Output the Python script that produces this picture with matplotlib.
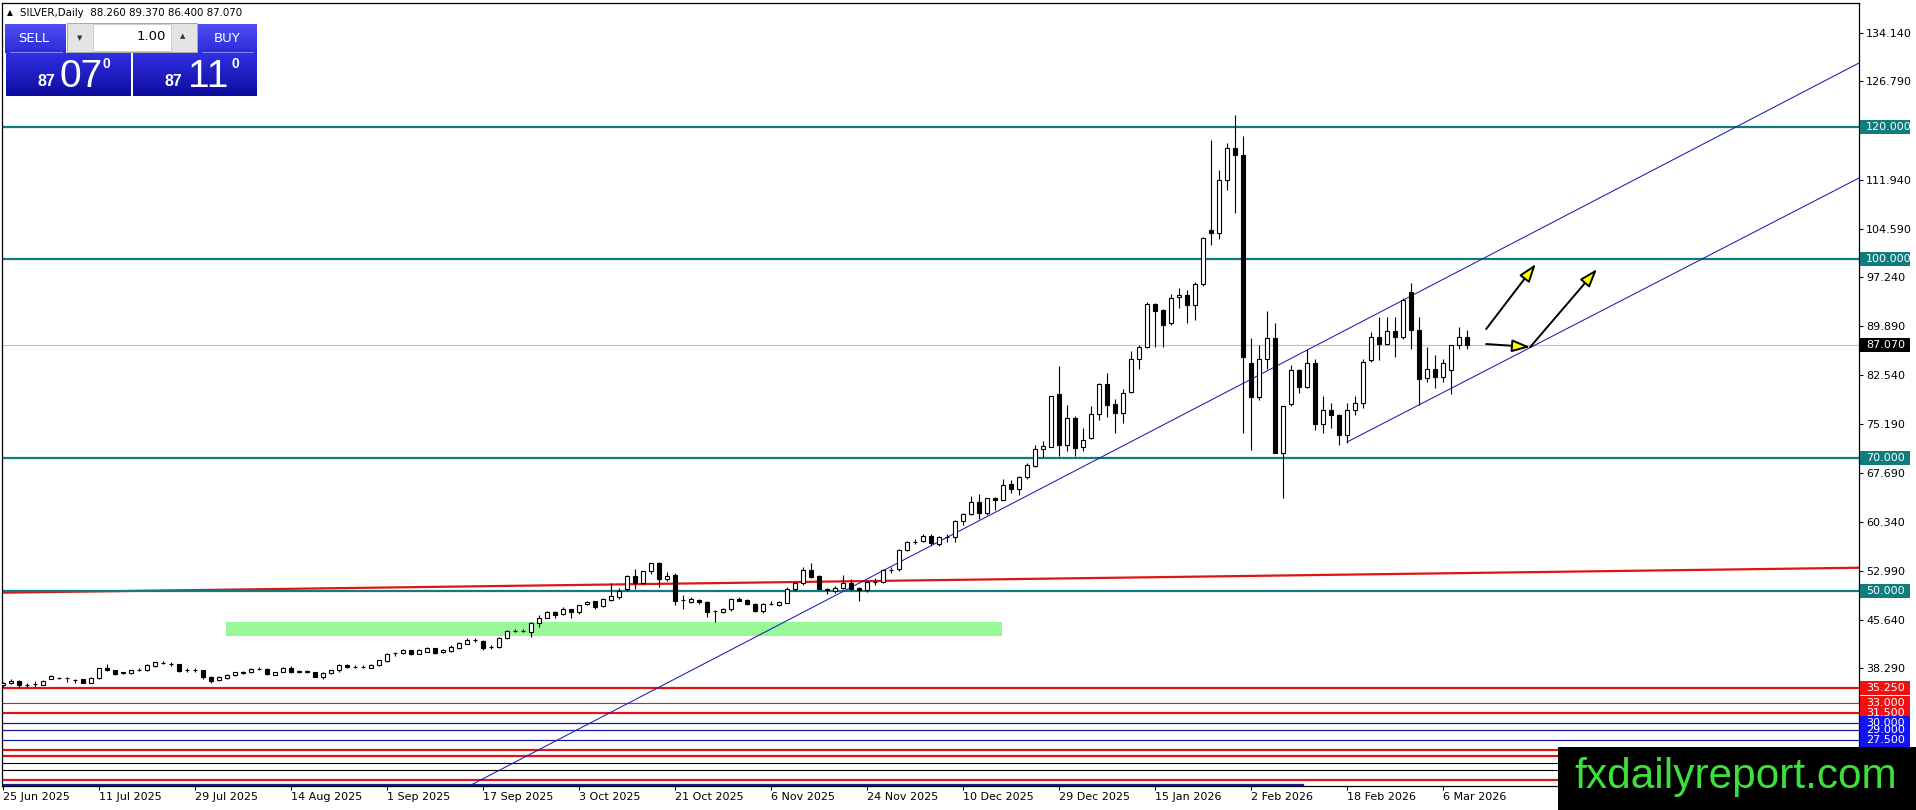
import numpy as np
import matplotlib
matplotlib.use('Agg')
import matplotlib.pyplot as plt
from matplotlib.patches import Rectangle
from matplotlib import transforms

plt.rcParams['font.family'] = ['DejaVu Sans']

# ---------------- data ----------------
date_labels = ['25 Jun 2025', '11 Jul 2025', '29 Jul 2025', '14 Aug 2025', '1 Sep 2025',
               '17 Sep 2025', '3 Oct 2025', '21 Oct 2025', '6 Nov 2025', '24 Nov 2025',
               '10 Dec 2025', '29 Dec 2025', '15 Jan 2026', '2 Feb 2026', '18 Feb 2026',
               '6 Mar 2026']
date_label_bars = [0, 12, 24, 36, 48, 60, 72, 84, 96, 108, 120, 132, 144, 156, 168, 180]

opens = [35.7, 36.0, 36.4, 35.7, 35.9, 35.8, 36.7, 36.85, 36.8, 36.55,
         36.6, 36.1, 36.8, 38.4, 38.0, 37.7, 37.6, 38.05, 38.0, 38.7,
         39.1, 39.0, 38.9, 38.0, 38.0, 38.0, 37.0, 36.5, 36.8, 37.2,
         37.6, 37.7, 38.2, 38.2, 37.3, 37.8, 38.4, 37.8, 37.8, 37.7,
         37.0, 37.5, 38.0, 38.8, 38.5, 38.5, 38.4, 38.8, 39.4, 40.65,
         40.6, 41.0, 40.5, 40.8, 41.3, 40.7, 40.9, 41.3, 42.0, 42.55,
         42.4, 41.5, 41.5, 42.8, 43.9, 43.9, 43.7, 45.1, 45.9, 46.8,
         46.5, 47.2, 46.8, 48.0, 48.4, 47.7, 48.6, 49.1, 50.2, 52.2,
         51.2, 52.9, 54.2, 51.7, 52.4, 48.6, 48.3, 48.6, 48.3, 46.95,
         46.8, 47.2, 48.8, 48.6, 48.0, 46.9, 48.0, 47.8, 48.2, 50.3,
         51.1, 53.1, 52.2, 50.3, 49.9, 50.4, 51.1, 50.4, 50.1, 51.3,
         51.3, 53.1, 53.2, 56.2, 57.3, 57.5, 58.3, 57.1, 58.1, 58.1,
         60.5, 61.6, 63.4, 61.7, 63.9, 63.7, 66.1, 65.4, 67.1, 68.8,
         71.3, 71.7, 79.7, 72.0, 76.1, 71.6, 73.0, 76.6, 81.2, 78.1,
         76.8, 80.0, 85.0, 86.8, 93.2, 92.3, 90.3, 94.3, 94.6, 93.1,
         96.25, 104.4, 103.9, 112.0, 116.7, 115.7, 84.4, 79.15, 85.0, 88.05,
         70.8, 78.2, 83.3, 80.7, 84.3, 75.1, 77.3, 76.5, 73.4, 77.2,
         78.3, 84.8, 88.2, 87.2, 89.2, 88.2, 95.0, 89.3, 82.0, 83.5,
         82.2, 83.3, 87.05, 88.26]
highs = [36.2, 36.6, 36.5, 36.0, 36.3, 36.5, 37.3, 36.9, 37.0, 36.6,
         36.7, 36.9, 38.4, 38.9, 38.1, 37.8, 38.1, 38.4, 38.9, 39.3,
         39.4, 39.2, 39.0, 38.3, 38.3, 38.1, 37.1, 37.1, 37.4, 37.8,
         37.9, 38.3, 38.5, 38.3, 37.8, 38.5, 38.6, 38.0, 38.0, 37.8,
         37.7, 38.1, 38.9, 38.9, 38.8, 38.8, 38.9, 39.6, 40.6, 40.7,
         41.2, 41.1, 41.2, 41.5, 41.4, 41.2, 41.8, 42.2, 42.8, 42.8,
         42.5, 41.8, 43.0, 44.0, 44.2, 44.2, 45.2, 46.3, 47.0, 46.9,
         47.6, 47.3, 47.9, 48.4, 48.5, 48.9, 51.1, 50.4, 52.3, 53.3,
         53.0, 54.2, 54.3, 52.8, 52.6, 49.3, 49.0, 48.8, 48.4, 47.1,
         47.4, 48.9, 49.0, 48.7, 48.1, 48.1, 48.5, 48.4, 50.5, 51.3,
         53.6, 54.2, 52.3, 50.4, 50.7, 52.3, 51.7, 50.5, 51.4, 51.9,
         53.2, 53.6, 56.3, 57.5, 57.8, 58.5, 58.5, 58.3, 58.6, 60.6,
         61.7, 64.3, 64.6, 64.0, 64.1, 66.8, 66.7, 67.3, 69.2, 71.9,
         72.6, 79.4, 83.9, 78.0, 76.3, 74.5, 77.85, 81.3, 82.8, 78.9,
         80.4, 86.2, 87.0, 93.6, 93.4, 92.5, 94.7, 95.7, 95.4, 96.6,
         103.4, 117.9, 113.4, 117.5, 121.7, 118.6, 88.05, 87.0, 92.2, 90.4,
         77.9, 84.0, 83.5, 86.4, 84.9, 79.35, 78.25, 76.7, 78.25, 79.35,
         84.9, 89.05, 91.2, 91.2, 91.2, 94.1, 96.45, 91.2, 86.8, 85.5,
         84.9, 87.1, 89.8, 89.37]
lows = [35.5, 35.9, 35.5, 35.5, 35.4, 35.7, 36.6, 36.7, 36.2, 36.1,
        36.0, 36.0, 36.7, 37.9, 37.3, 37.4, 37.4, 37.9, 37.9, 38.5,
        38.9, 38.7, 37.7, 37.8, 37.8, 36.6, 36.0, 36.3, 36.6, 37.1,
        37.4, 37.6, 38.0, 37.3, 37.2, 37.7, 37.6, 37.6, 37.6, 36.9,
        36.6, 37.4, 37.8, 38.4, 38.3, 38.3, 38.3, 38.7, 39.3, 40.2,
        40.4, 40.3, 40.4, 40.7, 40.5, 40.6, 40.8, 41.2, 41.9, 42.3,
        41.0, 41.2, 41.4, 42.7, 43.7, 43.7, 43.0, 44.5, 45.8, 45.8,
        46.3, 45.8, 46.4, 47.9, 47.2, 47.5, 48.4, 48.8, 50.0, 50.3,
        51.0, 52.5, 50.6, 51.5, 47.8, 47.3, 48.1, 48.0, 46.0, 45.3,
        46.6, 47.0, 48.4, 47.9, 46.7, 46.6, 47.8, 47.7, 48.1, 50.0,
        50.9, 51.9, 50.2, 49.5, 49.6, 50.2, 50.1, 48.5, 49.8, 50.8,
        51.1, 52.6, 53.0, 56.0, 57.0, 57.3, 56.9, 56.8, 57.4, 57.4,
        59.9, 61.4, 60.75, 61.4, 62.2, 63.6, 64.7, 64.4, 66.8, 68.7,
        70.2, 71.6, 70.3, 71.1, 70.3, 71.1, 72.8, 75.8, 76.2, 73.7,
        75.3, 79.8, 83.4, 86.6, 86.8, 86.8, 90.0, 92.6, 90.3, 90.8,
        96.0, 102.1, 103.0, 110.5, 106.9, 73.7, 71.2, 78.8, 83.4, 70.7,
        63.9, 77.9, 79.86, 80.5, 74.3, 73.8, 74.6, 71.9, 72.3, 76.5,
        77.5, 84.5, 84.8, 87.0, 85.2, 88.0, 86.5, 78.0, 81.4, 80.5,
        81.5, 79.65, 86.5, 86.40]
closes = [36.0, 36.4, 35.7, 35.75, 35.95, 36.3, 37.1, 36.8, 36.85, 36.5,
          36.1, 36.8, 38.3, 38.0, 37.4, 37.5, 38.0, 38.1, 38.8, 39.2,
          39.15, 38.9, 37.9, 38.05, 38.05, 36.9, 36.3, 37.0, 37.3, 37.7,
          37.65, 38.2, 38.25, 37.4, 37.7, 38.4, 37.7, 37.85, 37.85, 37.0,
          37.6, 38.0, 38.8, 38.5, 38.55, 38.55, 38.8, 39.5, 40.5, 40.6,
          41.1, 40.4, 41.1, 41.3, 40.6, 41.1, 41.5, 42.1, 42.6, 42.5,
          41.4, 41.55, 42.9, 43.9, 43.95, 43.95, 45.1, 45.8, 46.7, 46.3,
          47.2, 46.8, 47.8, 48.3, 47.6, 48.7, 49.2, 50.0, 52.2, 51.2,
          52.9, 54.1, 51.7, 52.2, 48.5, 48.65, 48.7, 48.3, 46.7, 46.9,
          47.3, 48.7, 48.5, 48.0, 46.9, 48.0, 48.05, 48.3, 50.3, 51.2,
          53.1, 52.1, 50.3, 50.1, 50.4, 51.2, 50.3, 50.1, 51.3, 51.35,
          53.1, 53.15, 56.2, 57.3, 57.35, 58.3, 57.2, 58.1, 58.15, 60.5,
          61.6, 63.4, 61.7, 63.9, 63.6, 66.0, 65.4, 67.1, 68.9, 71.4,
          71.8, 79.3, 72.0, 76.1, 71.5, 72.7, 76.6, 81.2, 78.0, 76.8,
          79.8, 85.0, 86.8, 93.2, 92.2, 90.0, 94.2, 94.6, 93.1, 96.25,
          103.2, 103.9, 112.0, 116.7, 115.7, 85.2, 79.15, 85.0, 88.05, 70.8,
          77.85, 83.3, 80.7, 84.3, 75.1, 77.3, 76.5, 73.4, 77.2, 78.3,
          84.5, 88.2, 87.2, 89.2, 88.2, 93.9, 89.3, 81.9, 83.5, 82.2,
          84.4, 87.05, 88.2, 87.07]

y_ticks = [134.14, 126.79, 111.94, 104.59, 97.24, 89.89, 82.54, 75.19,
           67.69, 60.34, 52.99, 45.64, 38.29]

teal_levels = [120.0, 100.0, 70.0, 50.0]
red_thick_levels = [35.25, 31.5, 26.0, 25.0, 21.5]
red_thin_levels = [33.0]
blue_levels = [30.0, 29.0, 27.5]
black_levels = [24.0, 23.0]
blue_bottom_level = 20.75
blue_bottom_span = (0, 162.5)

red_labels = [35.25, 33.0, 31.5]
blue_labels = [30.0, 29.0, 27.5]
last_price = 87.07

red_trend_bars = [0, 232]
red_trend_prices = [49.69, 53.45]
channel_main_bars = [58.5, 232]
channel_main_prices = [20.68, 129.58]
channel_low_bars = [168, 232]
channel_low_prices = [72.41, 112.23]

zone_bars = (27.9, 124.9)
zone_prices = (43.2, 45.2)

arrows = [((185.4, 89.46), (191.6, 99.26)),
          ((185.4, 87.19), (190.9, 86.74)),
          ((190.9, 86.74), (199.25, 98.5))]

# ---------------- figure ----------------
W, H = 1916, 810
fig = plt.figure(figsize=(W / 100, H / 100), dpi=100)
fig.patch.set_facecolor('white')

ax_left, ax_right, ax_top, ax_bot = 2, 1859, 3, 786
ax = fig.add_axes([ax_left / W, (H - ax_bot) / H, (ax_right - ax_left) / W, (ax_bot - ax_top) / H])
ymin, ymax = 20.53, 138.63
xmin, xmax = -0.125, 232.0
ax.set_xlim(xmin, xmax)
ax.set_ylim(ymin, ymax)
ppu = (ax_bot - ax_top) / (ymax - ymin)

TEAL = '#0f7d7d'
RED = '#e01414'
BLUE = '#1a1aa0'
CH_BLUE = '#1c1cb0'

# green zone
ax.add_patch(Rectangle((zone_bars[0], zone_prices[0]), zone_bars[1] - zone_bars[0],
                       zone_prices[1] - zone_prices[0], facecolor='#98f898', edgecolor='none', zorder=1))

# horizontal levels
ax.axhline(last_price, color='#c0c0c0', lw=0.8, zorder=1.5)
for v in teal_levels:
    ax.axhline(v, color=TEAL, lw=1.6, zorder=2)
for v in red_thick_levels:
    ax.axhline(v, color=RED, lw=1.6, zorder=2)
for v in red_thin_levels:
    ax.axhline(v, color='#d02020', lw=0.8, zorder=2)
for v in blue_levels:
    ax.axhline(v, color=BLUE, lw=0.9, zorder=2)
for v in black_levels:
    ax.axhline(v, color='black', lw=0.8, zorder=2)
ax.plot(blue_bottom_span, [blue_bottom_level] * 2, color=BLUE, lw=1.6, zorder=2)

# trend lines
ax.plot(red_trend_bars, red_trend_prices, color=RED, lw=1.6, zorder=1.8)
ax.plot(channel_main_bars, channel_main_prices, color=CH_BLUE, lw=0.75, zorder=3)
ax.plot(channel_low_bars, channel_low_prices, color=CH_BLUE, lw=0.75, zorder=3)

# candles
o = np.array(opens); hi = np.array(highs); lo = np.array(lows); c = np.array(closes)
idx = np.arange(len(o))
bull = c >= o
ax.vlines(idx, lo, hi, color='black', lw=0.8, zorder=4)
bb = np.minimum(o, c)
bh = np.abs(c - o)
ax.bar(idx[bull], bh[bull], bottom=bb[bull], width=0.62, facecolor='white',
       edgecolor='black', linewidth=0.8, zorder=5)
ax.bar(idx[~bull], bh[~bull], bottom=bb[~bull], width=0.62, facecolor='black',
       edgecolor='black', linewidth=0.8, zorder=5)

# arrows
for start, end in arrows:
    ax.annotate('', xy=end, xytext=start,
                arrowprops=dict(arrowstyle='-|>,head_length=1.1,head_width=0.38',
                                facecolor='#ffff00', edgecolor='black', lw=1.4,
                                shrinkA=0, shrinkB=0, mutation_scale=10),
                zorder=6)

# axes styling
for s in ax.spines.values():
    s.set_color('black'); s.set_linewidth(0.9)
ax.yaxis.tick_right()
ax.set_yticks(y_ticks)
ax.set_yticklabels(['%.3f' % v for v in y_ticks])
ax.tick_params(axis='y', which='both', length=3, width=0.8, pad=2.2, labelsize=8, colors='black',
               left=False, right=True)
ax.set_xticks(date_label_bars)
ax.set_xticklabels(date_labels)
ax.tick_params(axis='x', length=3, width=0.8, pad=1.0, labelsize=8, colors='black')
for lab in ax.get_xticklabels():
    lab.set_ha('left')

# ---------------- overlay (pixel coordinates) ----------------
ov = fig.add_axes([0, 0, 1, 1])
ov.set_zorder(10)
ov.patch.set_visible(False)
ov.axis('off')
ytr = transforms.blended_transform_factory(ov.transData, ax.transData)


def level_label(v, text, fc, tc='white'):
    hh = 14 / ppu
    ov.add_patch(Rectangle((1860, v - hh / 2), 50, hh, transform=ytr, facecolor=fc,
                           edgecolor='none', clip_on=False, zorder=3))
    ov.text(1866, v, text, transform=ytr, color=tc, fontsize=8, va='center', ha='left',
            clip_on=False, zorder=4)


for v in teal_levels:
    level_label(v, '%.3f' % v, TEAL)
for v in red_labels:
    level_label(v, '%.3f' % v, '#f01010')
for v in blue_labels:
    level_label(v, '%.3f' % v, '#1414f0')
level_label(last_price, '%.3f' % last_price, 'black')


def grad_rect(x0, x1, y0, y1, ctop, cbot, z=2):
    ct = np.array(matplotlib.colors.to_rgb(ctop))
    cb = np.array(matplotlib.colors.to_rgb(cbot))
    t = np.linspace(0, 1, 64)[:, None]
    img = (ct[None, :] * (1 - t) + cb[None, :] * t)[:, None, :]
    ov.imshow(img, extent=(x0, x1, y1, y0), origin='upper', aspect='auto',
              interpolation='bilinear', zorder=z)


# watermark
ov.add_patch(Rectangle((1558, 747), 358, 63, facecolor='black', edgecolor='none', zorder=5))
ov.text(1736, 788, 'fxdailyreport.com', color='#3ce03c', fontsize=30.5,
        family=['Liberation Sans', 'DejaVu Sans'], ha='center', va='baseline', zorder=6)

# title
ov.text(9.5, 13, '\u25B2', fontsize=5.5, ha='center', va='center', color='black')
ov.text(20, 13.5, 'SILVER,Daily  88.260 89.370 86.400 87.070', fontsize=7.4,
        ha='left', va='center', color='black')

# trade panel
grad_rect(5, 66, 24, 53, '#5050f4', '#2a2ad8')
grad_rect(198, 257, 24, 53, '#5050f4', '#2a2ad8')
ov.add_patch(Rectangle((67, 23), 130, 28.5, facecolor='#e4e4e4', edgecolor='#a8a8a8', lw=0.7, zorder=3))
ov.add_patch(Rectangle((93, 23.5), 78, 27.5, facecolor='white', edgecolor='#c8c8c8', lw=0.6, zorder=4))
ov.text(80, 38, '\u25BC', fontsize=5, ha='center', va='center', color='#333333', zorder=5)
ov.text(183, 36.5, '\u25B2', fontsize=5, ha='center', va='center', color='#333333', zorder=5)
ov.text(166, 37, '1.00', fontsize=9.5, ha='right', va='center', color='black', zorder=5)
ov.text(34, 38.5, 'SELL', fontsize=9.5, ha='center', va='center', color='white', zorder=5)
ov.text(227, 38.5, 'BUY', fontsize=9.5, ha='center', va='center', color='white', zorder=5)
ov.plot([10, 62], [52, 52], color='#9a9aff', lw=0.6, zorder=5)
ov.plot([202, 253], [52, 52], color='#9a9aff', lw=0.6, zorder=5)
grad_rect(6, 131, 53, 96, '#3030e4', '#0c0c9e')
grad_rect(133, 257, 53, 96, '#3030e4', '#0c0c9e')
for x_small, x_big, x_sup, big in [(46, 60, 106, '07'), (173, 188, 235, '11')]:
    ov.text(x_small, 86, '87', fontsize=11.5, fontweight='bold', ha='center', va='baseline',
            color='white', family=['Liberation Sans', 'DejaVu Sans'], zorder=5)
    ov.text(x_big, 87, big, fontsize=28, ha='left', va='baseline', color='white',
            family=['Liberation Sans', 'DejaVu Sans'], zorder=5)
    ov.text(x_sup, 68, '0', fontsize=10, fontweight='bold', ha='center', va='baseline',
            color='white', family=['Liberation Sans', 'DejaVu Sans'], zorder=5)

ov.set_xlim(0, W)
ov.set_ylim(H, 0)

fig.savefig('out.png', dpi=100, facecolor='white')
